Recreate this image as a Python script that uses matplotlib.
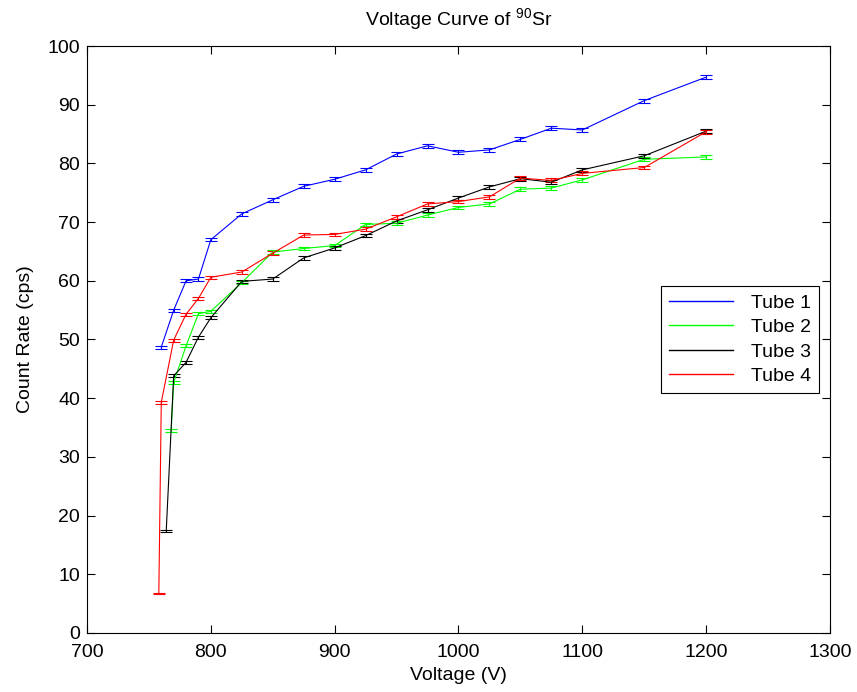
"""Voltage curve (count rate vs. tube voltage) of Sr-90 for four GM tubes."""

import matplotlib

matplotlib.use("Agg")
import matplotlib.pyplot as plt
from matplotlib.lines import Line2D

plt.rcParams["font.family"] = ["Liberation Sans", "DejaVu Sans"]
plt.rcParams["mathtext.fontset"] = "custom"
plt.rcParams["mathtext.rm"] = "Liberation Sans"

# ---------------------------------------------------------------------------
# Data (voltage in V, count rate in cps)
# ---------------------------------------------------------------------------
tube1_v = [760, 770, 780, 790, 800, 825, 850, 875, 900, 925, 950, 975, 1000,
           1025, 1050, 1075, 1100, 1150, 1200]
tube1_c = [48.7, 55.0, 60.0, 60.3, 67.0, 71.4, 73.8, 76.1, 77.3, 78.9, 81.6,
           83.0, 81.9, 82.3, 84.1, 86.0, 85.7, 90.7, 94.7]
tube1_e = [0.25, 0.27, 0.28, 0.28, 0.30, 0.30, 0.31, 0.32, 0.32, 0.32, 0.33,
           0.33, 0.33, 0.33, 0.33, 0.34, 0.34, 0.35, 0.36]

tube2_v = [768, 770, 780, 790, 800, 825, 850, 875, 900, 925, 950, 975, 1000,
           1025, 1050, 1075, 1100, 1150, 1200]
tube2_c = [34.5, 42.7, 48.9, 54.4, 54.8, 59.7, 64.9, 65.5, 66.0, 69.6, 69.8,
           71.2, 72.5, 73.1, 75.6, 75.8, 77.2, 80.7, 81.1]
tube2_e = [0.22, 0.25, 0.26, 0.28, 0.28, 0.29, 0.30, 0.30, 0.30, 0.31, 0.31,
           0.31, 0.32, 0.32, 0.32, 0.32, 0.33, 0.33, 0.34]

tube3_v = [764, 770, 780, 790, 800, 825, 850, 875, 900, 925, 950, 975, 1000,
           1025, 1050, 1075, 1100, 1150, 1200]
tube3_c = [17.4, 43.8, 46.1, 50.4, 53.7, 59.9, 60.3, 63.9, 65.6, 67.7, 70.2,
           72.1, 74.1, 76.0, 77.4, 76.8, 78.9, 81.3, 85.5]
tube3_e = [0.16, 0.25, 0.26, 0.27, 0.28, 0.29, 0.29, 0.30, 0.30, 0.31, 0.31,
           0.32, 0.32, 0.33, 0.33, 0.33, 0.33, 0.34, 0.35]

tube4_v = [758, 760, 770, 780, 790, 800, 825, 850, 875, 900, 925, 950, 975,
           1000, 1025, 1050, 1075, 1100, 1150, 1200]
tube4_c = [6.7, 39.3, 49.9, 54.3, 57.0, 60.6, 61.5, 64.7, 67.8, 67.9, 68.8,
           70.9, 73.1, 73.5, 74.3, 77.5, 77.1, 78.3, 79.3, 85.4]
tube4_e = [0.10, 0.23, 0.26, 0.27, 0.28, 0.29, 0.29, 0.30, 0.31, 0.31, 0.31,
           0.31, 0.32, 0.32, 0.32, 0.33, 0.33, 0.33, 0.33, 0.35]

series = [
    ("Tube 1", tube1_v, tube1_c, tube1_e, (0, 0, 1)),
    ("Tube 2", tube2_v, tube2_c, tube2_e, (0, 1, 0)),
    ("Tube 3", tube3_v, tube3_c, tube3_e, (0, 0, 0)),
    ("Tube 4", tube4_v, tube4_c, tube4_e, (1, 0, 0)),
]

# ---------------------------------------------------------------------------
# Plot
# ---------------------------------------------------------------------------
fig = plt.figure(figsize=(8.57, 6.92), dpi=100)
ax = fig.add_axes([0.1015, 0.0853, 0.867, 0.8482])

handles = []
for label, v, c, e, color in series:
    ax.errorbar(v, c, yerr=e, color=color, linewidth=0.8, elinewidth=0.8,
                capsize=4, capthick=0.8)
    # legend shows plain lines only, as in the MATLAB original
    handles.append(Line2D([], [], color=color, linewidth=1.0, label=label))

ax.set_xlim(700, 1300)
ax.set_ylim(0, 100)
ax.set_xticks(range(700, 1301, 100))
ax.set_yticks(range(0, 101, 10))
ax.tick_params(direction="in", top=True, right=True, length=6, width=0.8,
               labelsize=14)
ax.tick_params(axis="x", pad=8)
ax.tick_params(axis="y", pad=5)
for spine in ax.spines.values():
    spine.set_linewidth(0.8)

ax.set_xlabel("Voltage (V)", fontsize=14, labelpad=4)
ax.set_ylabel("Count Rate (cps)", fontsize=14, labelpad=10)
ax.set_title(r"Voltage Curve of $^{90}$Sr", fontsize=14, pad=14)

leg = ax.legend(handles=handles, loc="center right",
                bbox_to_anchor=(0.998, 0.5), fontsize=14, fancybox=False,
                edgecolor="black", framealpha=1, handlelength=3.3,
                labelspacing=0.35, borderpad=0.4, handletextpad=0.9)
leg.get_frame().set_linewidth(0.8)

fig.savefig("out.png", dpi=100)
